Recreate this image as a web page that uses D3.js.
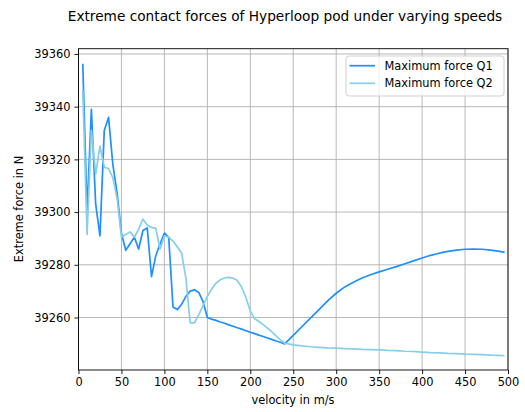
<!DOCTYPE html>
<html><head><meta charset="utf-8">
<script src="https://cdn.jsdelivr.net/npm/d3@7"></script>
<style>
html,body{margin:0;padding:0;background:#fff;}
text{font-family:"DejaVu Sans",sans-serif;fill:#000;}
</style></head>
<body><svg id="c" width="525" height="412"></svg>
<script>
const title = "Extreme contact forces of Hyperloop pod under varying speeds";
const xLabel = "velocity in m/s";
const yLabel = "Extreme force in N";
const seriesNames = ["Maximum force Q1", "Maximum force Q2"];
const xTicks = [0,50,100,150,200,250,300,350,400,450,500];
const yTicks = [39260,39280,39300,39320,39340,39360];

const velocity = [5,10,15,20,25,30,35,40,45,50,55,60,65,70,75,80,85,90,95,100,
  105,110,115,120,125,130,135,140,145,150,155,160,165,170,175,180,185,190,195,200,
  205,210,215,220,225,230,235,240,250,260,270,280,290,300,310,320,330,340,350,360,
  370,380,390,400,410,420,430,440,450,460,470,480,490,495];

const forceQ1 = [39356,39300,39339,39303,39291,39331,39336,39318,39307,39292,39285.5,39288,39290.5,39286,39293,39294,39275.5,39283.5,39288,39292,
  39290.5,39264,39263,39265,39268,39270,39270.5,39269.5,39266,39260,39259.4,39258.9,39258.3,39257.8,39257.2,39256.7,39256.1,39255.6,39255,39254.4,
  39253.9,39253.3,39252.8,39252.2,39251.7,39251.1,39250.6,39250,39253.2,39256.5,39259.8,39263,39266.3,39269.2,39271.6,39273.4,39275,39276.2,39277.3,39278.3,
  39279.3,39280.4,39281.5,39282.6,39283.6,39284.4,39285.1,39285.6,39285.9,39286,39285.9,39285.6,39285.1,39284.8];

const forceQ2 = [39346,39291.5,39331,39314.5,39325,39317,39316.5,39313,39305,39290.5,39291.5,39292.5,39290.5,39293.5,39297.3,39295,39294.2,39293.8,39286,39291,
  39290.5,39289,39286.8,39284.5,39275,39258,39258,39261,39264.5,39268,39270.8,39273,39274.3,39275,39275.2,39274.9,39274,39271.5,39267.5,39262.5,
  39259.5,39258.5,39257.3,39256,39254.6,39253,39251.5,39250.3,39249.6,39249.2,39248.9,39248.7,39248.5,39248.4,39248.2,39248.1,39247.9,39247.8,39247.7,39247.5,
  39247.4,39247.2,39247.1,39246.9,39246.7,39246.6,39246.4,39246.3,39246.1,39246,39245.9,39245.7,39245.6,39245.5];

const colors = ["#1e90ff", "#87ceeb"];

const svg = d3.select("#c");
const L = 78.5, R = 508, T = 48.7, B = 370;
const x = d3.scaleLinear().domain([0,500]).range([L,R]);
const y = d3.scaleLinear().domain([39240.08,39362.0]).range([B,T]);

// grid
const g = svg.append("g");
g.selectAll(".gx").data(xTicks).enter().append("line")
  .attr("x1",d=>x(d)).attr("x2",d=>x(d)).attr("y1",T).attr("y2",B)
  .attr("stroke","#b0b0b0").attr("stroke-width",0.9);
g.selectAll(".gy").data(yTicks).enter().append("line")
  .attr("x1",L).attr("x2",R).attr("y1",d=>y(d)).attr("y2",d=>y(d))
  .attr("stroke","#b0b0b0").attr("stroke-width",0.9);

// lines
const series = [forceQ1, forceQ2];
const line = d3.line().x(d=>x(d[0])).y(d=>y(d[1]));
series.forEach((s,i)=>{
  svg.append("path").datum(velocity.map((v,j)=>[v,s[j]]))
    .attr("d",line).attr("fill","none").attr("stroke",colors[i])
    .attr("stroke-width",1.7).attr("stroke-linejoin","round").attr("stroke-linecap","square");
});

// spines
svg.append("rect").attr("x",L).attr("y",T).attr("width",R-L).attr("height",B-T)
  .attr("fill","none").attr("stroke","#000").attr("stroke-width",0.9);

// axes
const xa = svg.append("g").attr("transform",`translate(0,${B})`)
  .call(d3.axisBottom(x).tickValues(xTicks).tickSize(4).tickPadding(4).tickFormat(d3.format("d")));
const ya = svg.append("g").attr("transform",`translate(${L},0)`)
  .call(d3.axisLeft(y).tickValues(yTicks).tickSize(4).tickPadding(4).tickFormat(d3.format("d")));
[xa,ya].forEach(a=>{
  a.select(".domain").remove();
  a.selectAll(".tick line").attr("stroke","#000").attr("stroke-width",0.9);
  a.selectAll(".tick text").attr("font-family","DejaVu Sans").attr("font-size","11.4px").attr("fill","#000");
});

// labels
svg.append("text").attr("x",285).attr("y",21).attr("text-anchor","middle")
  .attr("font-size","13.7px").text(title);
svg.append("text").attr("x",293).attr("y",404).attr("text-anchor","middle")
  .attr("font-size","11.4px").text(xLabel);
svg.append("text").attr("transform","translate(23,209) rotate(-90)").attr("text-anchor","middle")
  .attr("font-size","11.4px").text(yLabel);

// legend
const lg = svg.append("g");
lg.append("rect").attr("x",346).attr("y",56).attr("width",158).attr("height",40).attr("rx",3)
  .attr("fill","#fff").attr("fill-opacity",0.8).attr("stroke","#cccccc").attr("stroke-width",0.9);
seriesNames.forEach((n,i)=>{
  const yy = 65.7 + i*17.6;
  lg.append("line").attr("x1",349.5).attr("x2",375).attr("y1",yy).attr("y2",yy)
    .attr("stroke",colors[i]).attr("stroke-width",1.7);
  lg.append("text").attr("x",384.5).attr("y",yy+4).attr("font-size","11.4px").text(n);
});
</script></body></html>
